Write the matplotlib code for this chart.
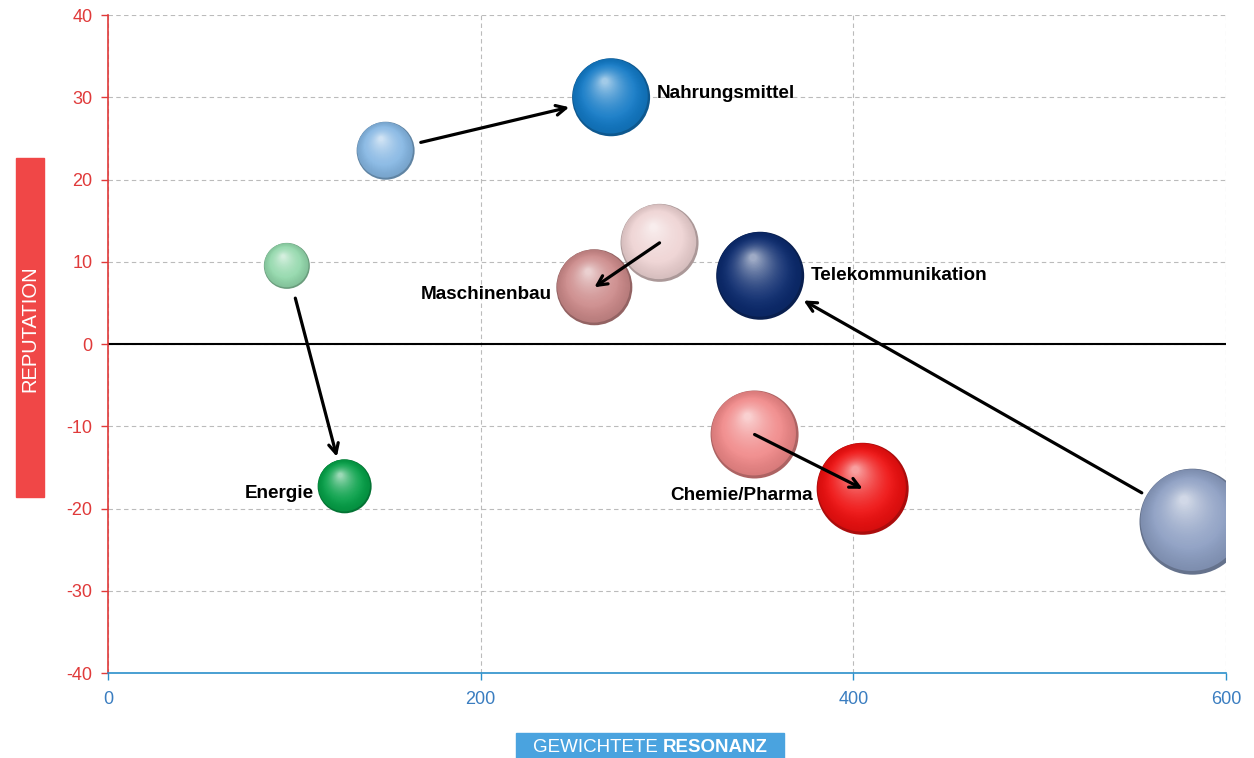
import numpy as np
import matplotlib
matplotlib.use("Agg")
import matplotlib.pyplot as plt
from matplotlib.colors import to_rgb
from matplotlib.patches import Rectangle
from matplotlib.transforms import offset_copy

plt.rcParams["axes.unicode_minus"] = False

# Branchen: Position vorher (alt) und nachher (neu)
branchen = ["Nahrungsmittel", "Energie", "Maschinenbau", "Telekommunikation", "Chemie/Pharma"]
resonanz_alt = [149, 96, 296, 582, 347]
reputation_alt = [23.5, 9.5, 12.3, -21.6, -11.0]
groesse_alt = [29, 23, 39, 53, 44]
resonanz_neu = [270, 127, 261, 350, 405]
reputation_neu = [30.0, -17.3, 6.9, 8.3, -17.6]
groesse_neu = [39, 27, 38, 44, 46]

farben_alt = ["#86B7E3", "#93D8AC", "#EED3D3", "#8C9EC2", "#F08989"]
farben_neu = ["#137AC6", "#06A048", "#CC8A8A", "#0C2B6E", "#EE1010"]

x_ticks = [0, 200, 400, 600]
y_ticks = [-40, -30, -20, -10, 0, 10, 20, 30, 40]

# Pfeil-Abstand (pt) am Start / Ende
shrink_a = [26, 24, 0, 42, 0]
shrink_b = [31, 22, 0, 36, 0]
label_side = ["right", "left", "left", "right", "left"]
label_dy = [3, -5, -5, 0, -5]

fig = plt.figure(figsize=(12.54, 7.58), dpi=100)
ax = fig.add_axes([0.0861, 0.1121, 0.8916, 0.8681])


def kugel(x, y, r, farbe):
    # r in Pixel -> Punkte
    r_pt = r * 0.72
    base = np.array(to_rgb(farbe))
    ax.scatter([x], [y], s=(2 * r_pt) ** 2, color=base * 0.72, edgecolors="none", zorder=3)
    n = 40
    for k in range(n):
        f = k / (n - 1)
        rr = r_pt * (0.96 - 0.88 * f)
        col = base * (0.9 + 0.1 * min(f * 3, 1)) + (1 - base) * 0.6 * f ** 2
        col = np.clip(col, 0, 1)
        tr = offset_copy(ax.transData, fig=fig, x=-0.14 * r_pt * f - 0.02 * r_pt,
                         y=0.38 * r_pt * f + 0.03 * r_pt, units="points")
        ax.scatter([x], [y], s=(2 * rr) ** 2, color=col, edgecolors="none",
                   transform=tr, zorder=3 + 0.001 * k)


for i in range(len(branchen)):
    kugel(resonanz_alt[i], reputation_alt[i], groesse_alt[i], farben_alt[i])
    kugel(resonanz_neu[i], reputation_neu[i], groesse_neu[i], farben_neu[i])
    ax.annotate("", xy=(resonanz_neu[i], reputation_neu[i]),
                xytext=(resonanz_alt[i], reputation_alt[i]),
                arrowprops=dict(arrowstyle="->,head_length=0.7,head_width=0.35", color="black",
                                lw=2.3, shrinkA=shrink_a[i], shrinkB=shrink_b[i]),
                zorder=6)
    off = groesse_neu[i] * 0.72 + 3
    if label_side[i] == "right":
        ax.annotate(branchen[i], (resonanz_neu[i], reputation_neu[i]), xytext=(off + 2, label_dy[i]),
                    textcoords="offset points", ha="left", va="center",
                    fontsize=13.6, fontweight="bold", family="Liberation Sans", zorder=7)
    else:
        ax.annotate(branchen[i], (resonanz_neu[i], reputation_neu[i]), xytext=(-off, label_dy[i]),
                    textcoords="offset points", ha="right", va="center",
                    fontsize=13.6, fontweight="bold", family="Liberation Sans", zorder=7)

ax.axhline(0, color="black", lw=1.5, zorder=2)

ax.set_xlim(0, 600)
ax.set_ylim(-40, 40)
ax.set_xticks(x_ticks)
ax.set_yticks(y_ticks)
ax.grid(True, color="#BBBBBB", linestyle=(0, (4, 3)), lw=0.8, zorder=0)
ax.set_axisbelow(True)

for s in ["top", "right"]:
    ax.spines[s].set_visible(False)
ax.spines["left"].set_color("#E03A3A")
ax.spines["bottom"].set_color("#2A8FCB")
ax.spines["left"].set_linewidth(1.2)
ax.spines["bottom"].set_linewidth(1.2)
ax.tick_params(axis="y", colors="#E03A3A", labelsize=13, length=5, width=1, pad=6)
ax.tick_params(axis="x", colors="#2A8FCB", labelcolor="#3A7DC0", labelsize=13, length=5, width=1, pad=8)
for lbl in ax.get_xticklabels() + ax.get_yticklabels():
    lbl.set_family("Liberation Sans")

# Achsentitel als farbige Kästen
fig.patches.append(Rectangle((16 / 1254, 1 - 497 / 758), 28 / 1254, 339 / 758,
                             transform=fig.transFigure, color="#F04747", zorder=0))
fig.text(30 / 1254, 1 - 329 / 758, "REPUTATION", rotation=90, color="white",
         ha="center", va="center", fontsize=14.5, family="Liberation Sans")

fig.patches.append(Rectangle((516 / 1254, 0), 268 / 1254, 25 / 758,
                             transform=fig.transFigure, color="#4AA3DF", zorder=0))
t1 = fig.text(533 / 1254, 11 / 758, "GEWICHTETE ", color="white", ha="left", va="center",
              fontsize=13.5, family="Liberation Sans")
fig.canvas.draw()
bb = t1.get_window_extent()
fig.text(bb.x1 / 1254, 11 / 758, "RESONANZ", color="white", ha="left", va="center",
         fontsize=13.5, fontweight="bold", family="Liberation Sans")

fig.savefig("out.png", dpi=100)
